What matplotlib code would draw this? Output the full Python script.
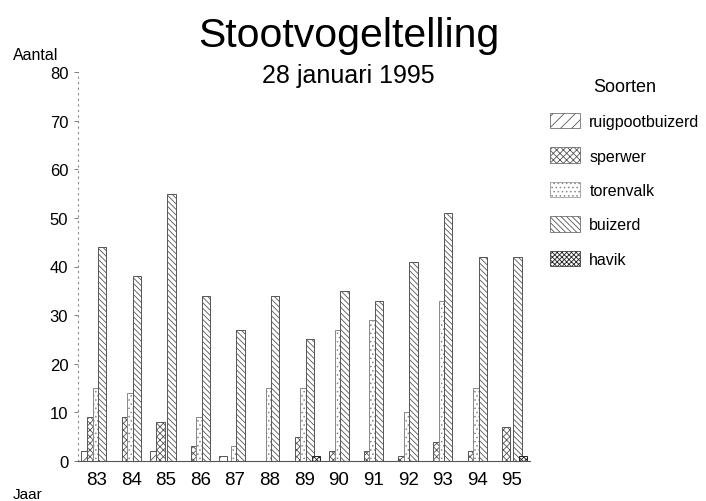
import matplotlib
matplotlib.use("Agg")
import matplotlib.pyplot as plt
import numpy as np
from matplotlib.patches import Patch

plt.rcParams['font.family'] = ['Liberation Sans', 'DejaVu Sans']
plt.rcParams['hatch.linewidth'] = 0.6

years = ['83', '84', '85', '86', '87', '88', '89', '90', '91', '92', '93', '94', '95']
ruigpootbuizerd = [2, 0, 2, 0, 1, 0, 0, 0, 0, 0, 0, 0, 0]
sperwer = [9, 9, 8, 3, 0, 0, 5, 2, 2, 1, 4, 2, 7]
torenvalk = [15, 14, 0, 9, 3, 15, 15, 27, 29, 10, 33, 15, 0]
buizerd = [44, 38, 55, 34, 27, 34, 25, 35, 33, 41, 51, 42, 42]
havik = [0, 0, 0, 0, 0, 0, 1, 0, 0, 0, 0, 0, 1]

series = [
    ('ruigpootbuizerd', ruigpootbuizerd, '///', '#555555'),
    ('sperwer', sperwer, 'xxxxx', '#555555'),
    ('torenvalk', torenvalk, '....', '#888888'),
    ('buizerd', buizerd, '\\\\\\\\\\\\', '#555555'),
    ('havik', havik, 'xxxxxxx', '#222222'),
]

fig = plt.figure(figsize=(7.06, 5.02), dpi=100)
ax = fig.add_axes([0.1105, 1 - 462 / 502, 0.640, 389 / 502])

x = np.arange(len(years))
w = 0.24
offsets = [-0.34, -0.16, 0.0, 0.16, 0.33]
handles = []
for (name, vals, hatch, hc), off in zip(series, offsets):
    ax.bar(x + off, vals, width=w, facecolor='white', edgecolor=hc,
           hatch=hatch, linewidth=0.7)
    handles.append(Patch(facecolor='white', edgecolor=hc, hatch=hatch,
                         linewidth=0.5, label=name))

ax.set_xlim(-0.54, 12.52)
ax.set_ylim(0, 80)
ax.set_yticks(range(0, 81, 10))
ax.set_xticks(x)
ax.set_xticklabels(years, fontsize=13.5)
ax.tick_params(axis='y', labelsize=12, length=3, width=0.6, color='#666666', pad=4)
ax.tick_params(axis='x', length=0, pad=7)
for s in ['top', 'right']:
    ax.spines[s].set_visible(False)
ax.spines['left'].set_linestyle((0, (1, 4)))
ax.spines['left'].set_color('#888888')
ax.spines['left'].set_linewidth(0.8)
ax.spines['bottom'].set_color('#555555')
ax.spines['bottom'].set_linewidth(0.8)

fig.text(0.494, 1 - 47 / 502, 'Stootvogeltelling', fontsize=29.5, ha='center', va='baseline')
fig.text(0.494, 1 - 83 / 502, '28 januari 1995', fontsize=18, ha='center', va='baseline')
fig.text(0.018, 1 - 60 / 502, 'Aantal', fontsize=11.5, ha='left', va='baseline')
fig.text(0.018, 1 - 499 / 502, 'Jaar', fontsize=11, ha='left', va='baseline')

leg = fig.legend(handles=handles, loc='upper left', bbox_to_anchor=(0.759, 0.872),
                 frameon=False, title='Soorten', title_fontsize=13, fontsize=11.5,
                 handlelength=1.85, handleheight=1.1, labelspacing=1.15,
                 handletextpad=0.6, borderpad=0.4)
leg._legend_box.align = 'center'

fig.savefig('out.png', dpi=100)
